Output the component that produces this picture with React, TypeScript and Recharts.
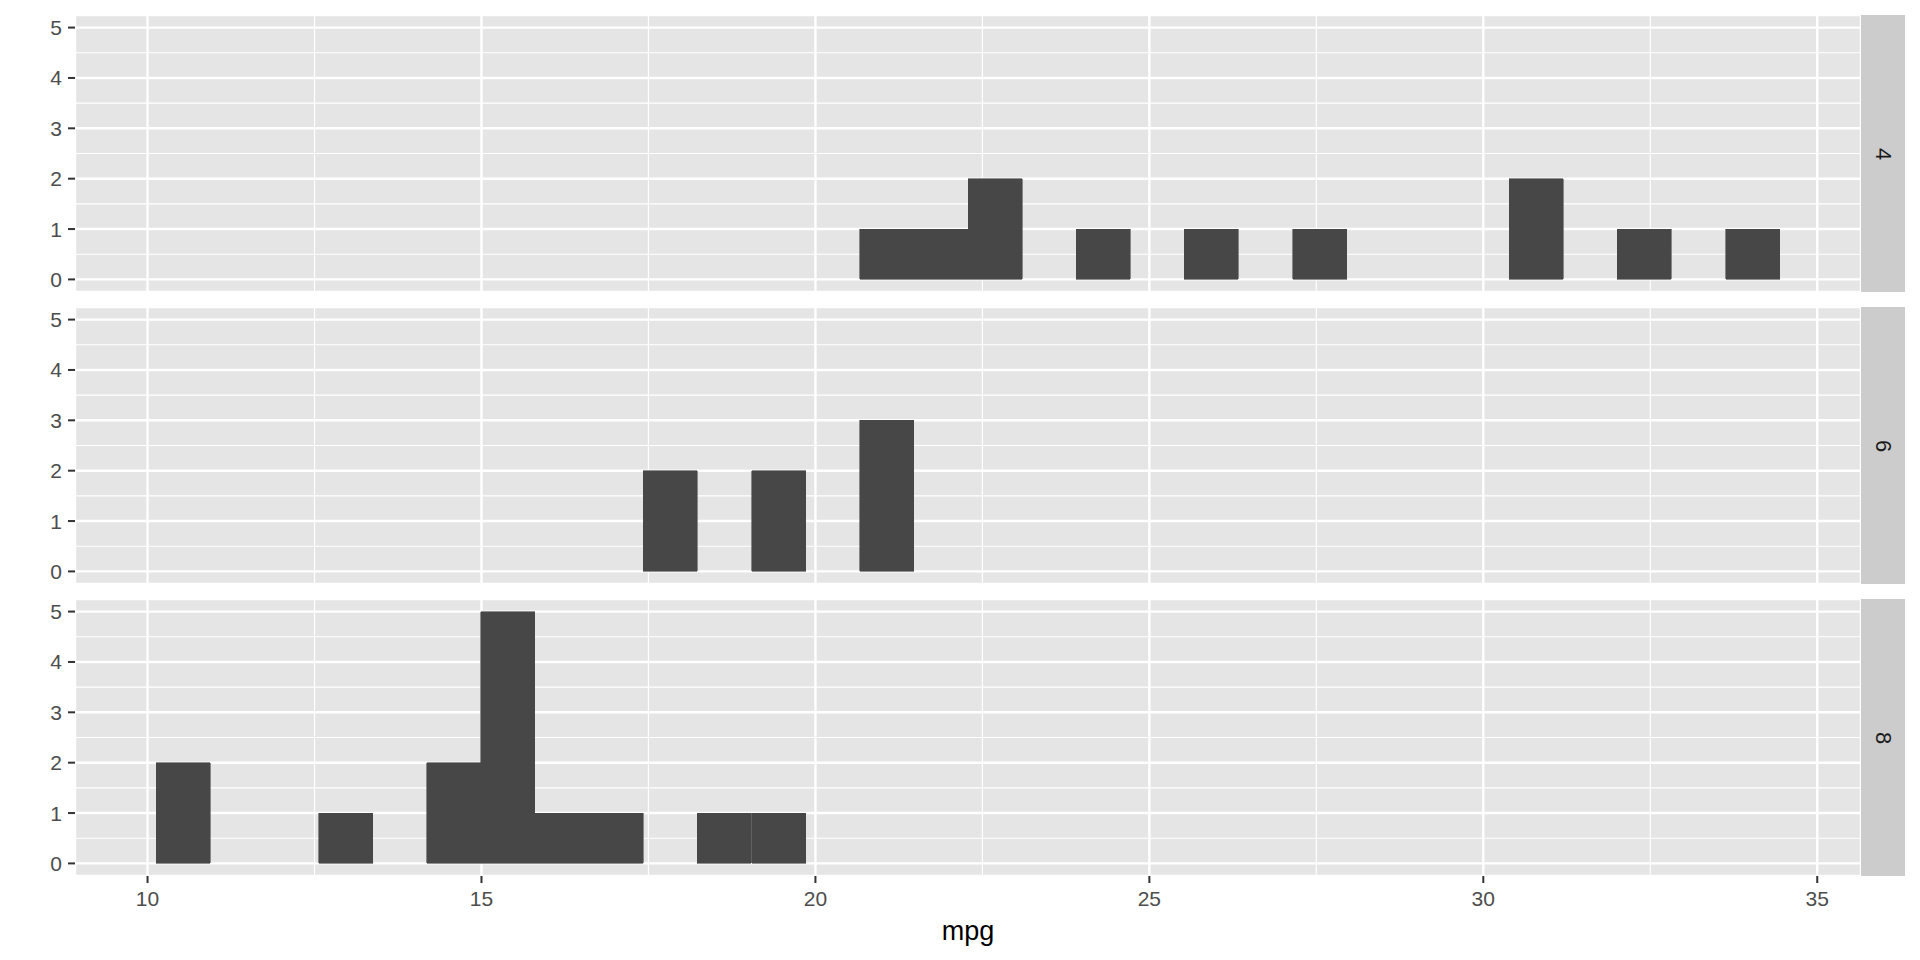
import { BarChart, Bar, XAxis, YAxis, CartesianGrid } from "recharts";

// mtcars mpg, 30 bins (width ~0.81), faceted by cyl
const binCenters = [
  10.53448, 11.34483, 12.15517, 12.96552, 13.77586, 14.58621, 15.39655, 16.2069, 17.01724, 17.82759,
  18.63793, 19.44828, 20.25862, 21.06897, 21.87931, 22.68966, 23.5, 24.31034, 25.12069, 25.93103,
  26.74138, 27.55172, 28.36207, 29.17241, 29.98276, 30.7931, 31.60345, 32.41379, 33.22414, 34.03448,
];
const cyl4Counts = [0, 0, 0, 0, 0, 0, 0, 0, 0, 0, 0, 0, 0, 1, 1, 2, 0, 1, 0, 1, 0, 1, 0, 0, 0, 2, 0, 1, 0, 1];
const cyl6Counts = [0, 0, 0, 0, 0, 0, 0, 0, 0, 2, 0, 2, 0, 3, 0, 0, 0, 0, 0, 0, 0, 0, 0, 0, 0, 0, 0, 0, 0, 0];
const cyl8Counts = [2, 0, 0, 1, 0, 2, 5, 1, 1, 0, 1, 1, 0, 0, 0, 0, 0, 0, 0, 0, 0, 0, 0, 0, 0, 0, 0, 0, 0, 0];
const facetLabels = ["4", "6", "8"];

const xTicks = [10, 15, 20, 25, 30, 35];
const xMinorTicks = [12.5, 17.5, 22.5, 27.5, 32.5];
const yTicks = [0, 1, 2, 3, 4, 5];
const yMinorTicks = [0.5, 1.5, 2.5, 3.5, 4.5];
const X_DOMAIN: [number, number] = [8.91379, 35.65517];
const Y_DOMAIN: [number, number] = [-0.25, 5.25];

const FONT = "'Liberation Sans', Arial, sans-serif";
const PANEL_LEFT = 75;
const PANEL_RIGHT = 1861;
const PANEL_H = 277;
const STRIP_W = 44;
const AXIS_H = 80;

interface PanelProps {
  counts: number[];
  label: string;
  top: number;
  showX: boolean;
}

function Panel({ counts, label, top, showX }: PanelProps) {
  const data = binCenters.map((x, i) => ({ x, count: counts[i] }));
  const height = PANEL_H + (showX ? AXIS_H : 0);
  const tickStyle = { fill: "#4D4D4D", fontSize: 21, fontFamily: FONT };

  return (
    <div style={{ position: "absolute", left: 0, top, width: 1920, height }}>
      <BarChart
        width={1920}
        height={height}
        data={data}
        margin={{ top: 0, right: 1920 - PANEL_RIGHT, bottom: 0, left: PANEL_LEFT - 45 }}
        barCategoryGap={0}
        barGap={0}
      >
        <XAxis xAxisId="minor" type="number" dataKey="x" domain={X_DOMAIN} ticks={xMinorTicks} allowDataOverflow hide />
        <YAxis yAxisId="minor" type="number" domain={Y_DOMAIN} ticks={yMinorTicks} allowDataOverflow hide />
        <CartesianGrid xAxisId="minor" yAxisId="minor" fill="#E5E5E5" stroke="#FFFFFF" strokeWidth={1.2} />
        <CartesianGrid stroke="#FFFFFF" strokeWidth={2.4} />
        <XAxis
          type="number"
          dataKey="x"
          domain={X_DOMAIN}
          ticks={xTicks}
          allowDataOverflow
          hide={!showX}
          height={AXIS_H}
          axisLine={false}
          tickLine={{ stroke: "#333333", strokeWidth: 2 }}
          tickSize={7}
          tickMargin={8}
          tick={tickStyle}
          label={{ value: "mpg", position: "insideBottom", offset: 16, fill: "#000000", fontSize: 27, fontFamily: FONT }}
        />
        <YAxis
          type="number"
          domain={Y_DOMAIN}
          ticks={yTicks}
          allowDataOverflow
          width={45}
          axisLine={false}
          tickLine={{ stroke: "#333333", strokeWidth: 2 }}
          tickSize={7}
          tickMargin={6}
          tick={tickStyle}
        />
        <Bar
          dataKey="count"
          fill="#474747"
          stroke="#474747"
          strokeWidth={0.6}
          shapeRendering="crispEdges"
          isAnimationActive={false}
        />
      </BarChart>
      <div
        style={{
          position: "absolute",
          left: PANEL_RIGHT,
          top: 0,
          width: STRIP_W,
          height: PANEL_H,
          background: "#CCCCCC",
          display: "flex",
          alignItems: "center",
          justifyContent: "center",
        }}
      >
        <span style={{ transform: "rotate(90deg)", color: "#1A1A1A", fontSize: 22, fontFamily: FONT }}>{label}</span>
      </div>
    </div>
  );
}

export default function App() {
  return (
    <div style={{ position: "absolute", left: 0, top: 0, width: 1920, height: 960, background: "#FFFFFF" }}>
      <Panel counts={cyl4Counts} label={facetLabels[0]} top={15} showX={false} />
      <Panel counts={cyl6Counts} label={facetLabels[1]} top={307} showX={false} />
      <Panel counts={cyl8Counts} label={facetLabels[2]} top={599} showX={true} />
    </div>
  );
}
